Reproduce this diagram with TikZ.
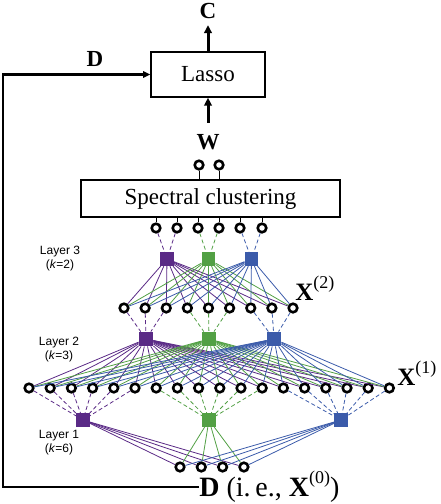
\documentclass[tikz,border=0pt]{standalone}
\usepackage{fontspec}
\setmainfont{Liberation Serif}
\newfontfamily\layerfont{Liberation Sans}
\usetikzlibrary{arrows.meta}
\definecolor{clu0}{HTML}{5A2A86}
\definecolor{clu1}{HTML}{52A044}
\definecolor{clu2}{HTML}{3B5BAA}
\newcommand{\upidx}[1]{\raisebox{0.48em}{\fontsize{9}{9}\selectfont\mdseries(#1)}}
\tikzset{
  stage/.style={draw=black, fill=white, line width=0.7pt, inner sep=0pt,
                font=\fontsize{11.5}{12}\selectfont},
  unit/.style={circle, draw=black, fill=white, line width=1.3pt,
               minimum size=4.3pt, inner sep=0pt},
  hub/.style={rectangle, minimum size=6.6pt, inner sep=0pt},
  link/.style={line width=0.4pt},
  grouplink/.style={line width=0.4pt, dash pattern=on 2pt off 1.3pt},
  stem/.style={line width=0.5pt},
  flow/.style={-{Triangle[length=4pt,width=3.8pt]}, line width=1.5pt},
  loopflow/.style={-{Triangle[length=3.6pt,width=3.2pt]}, line width=1.3pt},
  varlabel/.style={font=\bfseries\fontsize{11.5}{12}\selectfont,
                   inner sep=0pt},
  layerlabel/.style={font=\layerfont\fontsize{6}{7}\selectfont,
                     align=center, inner sep=0pt}
}

\begin{document}
\begin{tikzpicture}[x=0.5pt,y=-0.5pt]
  \path[use as bounding box] (0,0) rectangle (440,504);

  % Lasso on top, fed by W and by the data D.
  \node[stage, minimum width=57pt, minimum height=22.5pt]
    (lasso) at (208,74.5) {Lasso};
  \node[varlabel] (clab) at (208,11) {C};
  \node[varlabel] (wlab) at (208,142) {W};
  \node[varlabel] (dlab) at (95,59) {D};
  \draw[flow] (lasso.north) -- ([yshift=-3pt]clab.south);
  \draw[flow] ([yshift=5.5pt]wlab.north) -- (lasso.south);

  % Spectral clustering with its two outputs and six inputs.
  \node[stage, minimum width=129.5pt, minimum height=18.5pt]
    (spec) at (210.5,198.5) {Spectral clustering};
  \node[unit] (w1) at (199,165) {};
  \node[unit] (w2) at (219,165) {};
  \draw[stem] (w1) -- (w1 |- spec.north);
  \draw[stem] (w2) -- (w2 |- spec.north);
  \foreach \x [count=\i] in {156,177,198,219,240,262} {
    \node[unit] (top\i) at (\x,228) {};
    \draw[stem] (top\i) -- (top\i |- spec.south);
  }

  % -------------------------------------------------------------------------
  % Cluster squares of the three layers.
  \foreach \x [count=\g from 0] in {167,208.5,251.5}
    \node[hub, fill=clu\g] (l3s\g) at (\x,259) {};
  \foreach \x [count=\g from 0] in {146,209,274}
    \node[hub, fill=clu\g, minimum size=7pt] (l2s\g) at (\x,339) {};
  \foreach \x [count=\g from 0] in {83,209,341}
    \node[hub, fill=clu\g] (l1s\g) at (\x,420) {};

  \node[layerlabel] (lay3) at (60,259) {Layer 3\\(\textit{k}=2)};
  \node[layerlabel] (lay2) at (59,350) {Layer 2\\(\textit{k}=3)};
  \node[layerlabel] (lay1) at (59,443) {Layer 1\\(\textit{k}=6)};

  % Rows of units X(2), X(1) and X(0).
  \foreach \i in {1,...,9}
    \node[unit] (xtwo\i) at ({124+21.125*(\i-1)},308) {};
  \foreach \i in {1,...,18}
    \node[unit] (xone\i) at ({29+21.2*(\i-1)},388) {};
  \foreach \i in {1,...,4}
    \node[unit] (xzero\i) at ({180+21.3*(\i-1)},467) {};

  \node[varlabel, font=\bfseries\fontsize{12.5}{13}\selectfont,
        anchor=west] (xtwolab) at (295,288) {X\upidx{2}};
  \node[varlabel, font=\bfseries\fontsize{12.5}{13}\selectfont,
        anchor=west] (xonelab) at (397,373) {X\upidx{1}};

  % Dashed grouping lines: units of a cluster go to its square.
  \foreach \i in {1,...,6} {
    \pgfmathtruncatemacro\g{(\i-1)/2}
    \draw[grouplink, draw=clu\g] (top\i) -- (l3s\g);
  }
  \foreach \i in {1,...,9} {
    \pgfmathtruncatemacro\g{(\i-1)/3}
    \draw[grouplink, draw=clu\g] (xtwo\i) -- (l2s\g);
  }
  \foreach \i in {1,...,18} {
    \pgfmathtruncatemacro\g{(\i-1)/6}
    \draw[grouplink, draw=clu\g] (xone\i) -- (l1s\g);
  }

  % Solid lines: every square sees every unit of the row below.
  \foreach \g in {0,1,2}
    \foreach \i in {1,...,9}
      \draw[link, draw=clu\g] (l3s\g) -- (xtwo\i);
  \foreach \g in {0,1,2}
    \foreach \i in {1,...,18}
      \draw[link, draw=clu\g] (l2s\g) -- (xone\i);
  \foreach \g in {0,1,2}
    \foreach \i in {1,...,4}
      \draw[link, draw=clu\g] (l1s\g) -- (xzero\i);

  % -------------------------------------------------------------------------
  % The data D loops back to the Lasso.
  \node[font=\fontsize{14}{15}\selectfont, inner sep=0pt, anchor=west]
    (dtext) at (199,487)
    {\textbf{D} (i.\,e., \textbf{X}\upidx{0})};
  \draw[loopflow] (dtext.west) -- ++(-196,0) |- (lasso.west);
\end{tikzpicture}
\end{document}
